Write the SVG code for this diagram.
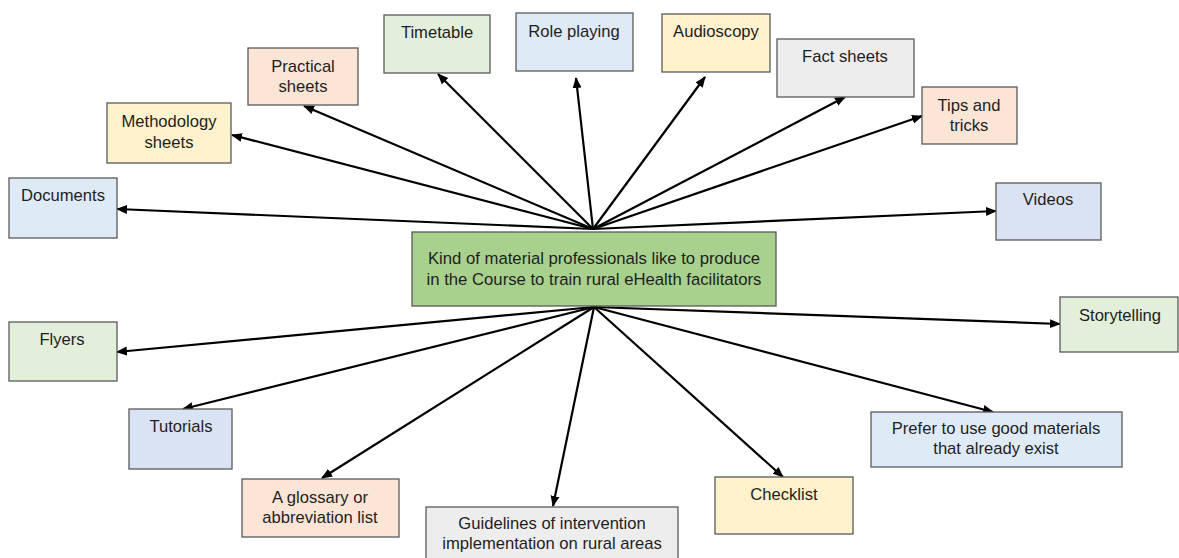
<svg xmlns="http://www.w3.org/2000/svg" width="1179" height="558" viewBox="0 0 1179 558">
<defs>
<style>
.n{stroke:#5a5a5a;stroke-width:1.3}
.t{font-family:"Liberation Sans",Arial,sans-serif;font-size:16.6px;fill:#1e1e1e;text-anchor:middle}
.g{fill:#e2efda}.b{fill:#deebf7}.v{fill:#dae3f3}.y{fill:#fff2cc}.p{fill:#fbe5d6}.r{fill:#ededed}
.c line{stroke:#000;stroke-width:2.2;marker-end:url(#a)}
</style>
<marker id="a" markerUnits="userSpaceOnUse" markerWidth="12" markerHeight="10" refX="10" refY="4.5" orient="auto" viewBox="0 0 12 9">
<path d="M0,0 L11,4.5 L0,9 Z" fill="#000"/>
</marker>
</defs>
<rect width="1179" height="558" fill="#fff"/>
<g class="c" id="connectors">
<line x1="593" y1="229" x2="117" y2="209"/>
<line x1="593" y1="229" x2="232" y2="135"/>
<line x1="593" y1="229" x2="304" y2="106"/>
<line x1="593" y1="229" x2="438" y2="74"/>
<line x1="593" y1="229" x2="576" y2="78"/>
<line x1="593" y1="229" x2="705" y2="77"/>
<line x1="593" y1="229" x2="845" y2="97"/>
<line x1="593" y1="229" x2="922" y2="116"/>
<line x1="593" y1="229" x2="996" y2="211"/>
<line x1="594" y1="307" x2="117" y2="352"/>
<line x1="594" y1="307" x2="183" y2="409"/>
<line x1="594" y1="307" x2="322" y2="478"/>
<line x1="594" y1="307" x2="553" y2="506"/>
<line x1="594" y1="307" x2="783" y2="477"/>
<line x1="594" y1="307" x2="1060" y2="324"/>
<line x1="594" y1="307" x2="993" y2="412"/>
</g>
<g id="center"><rect class="n" x="412" y="232" width="364" height="74" fill="#a9d18e"/>
<text class="t" style="font-size:16.7px" x="594" y="264">Kind of material professionals like to produce</text>
<text class="t" style="font-size:16.7px" x="594" y="285">in the Course to train rural eHealth facilitators</text></g>
<g id="documents"><rect class="n b" x="9" y="178" width="108" height="60"/><text class="t" x="63" y="201">Documents</text></g>
<g id="methodology"><rect class="n y" x="107" y="103" width="124" height="60"/><text class="t" x="169" y="127">Methodology</text><text class="t" x="169" y="148">sheets</text></g>
<g id="practical"><rect class="n p" x="248" y="48" width="110" height="57"/><text class="t" x="303" y="72">Practical</text><text class="t" x="303" y="92">sheets</text></g>
<g id="timetable"><rect class="n g" x="384" y="15" width="106" height="58"/><text class="t" x="437" y="38">Timetable</text></g>
<g id="roleplaying"><rect class="n b" x="516" y="13" width="117" height="58"/><text class="t" x="574" y="37">Role playing</text></g>
<g id="audioscopy"><rect class="n y" x="662" y="14" width="108" height="58"/><text class="t" x="716" y="37">Audioscopy</text></g>
<g id="factsheets"><rect class="n r" x="777" y="39" width="137" height="58"/><text class="t" x="845" y="62">Fact sheets</text></g>
<g id="tips"><rect class="n p" x="922" y="87" width="95" height="57"/><text class="t" x="969" y="111">Tips and</text><text class="t" x="969" y="131">tricks</text></g>
<g id="videos"><rect class="n v" x="996" y="183" width="105" height="57"/><text class="t" x="1048" y="205">Videos</text></g>
<g id="flyers"><rect class="n g" x="9" y="322" width="108" height="59"/><text class="t" x="62" y="345">Flyers</text></g>
<g id="tutorials"><rect class="n v" x="129" y="409" width="103" height="60"/><text class="t" x="181" y="432">Tutorials</text></g>
<g id="glossary"><rect class="n p" x="242" y="479" width="157" height="58"/><text class="t" x="320" y="503">A glossary or</text><text class="t" x="320" y="523">abbreviation list</text></g>
<g id="guidelines"><rect class="n r" x="426" y="507" width="252" height="56"/><text class="t" x="552" y="529">Guidelines of intervention</text><text class="t" x="552" y="549">implementation on rural areas</text></g>
<g id="checklist"><rect class="n y" x="715" y="477" width="138" height="57"/><text class="t" x="784" y="500">Checklist</text></g>
<g id="storytelling"><rect class="n g" x="1060" y="297" width="118" height="55"/><text class="t" x="1120" y="321">Storytelling</text></g>
<g id="prefer"><rect class="n b" x="871" y="412" width="251" height="55"/><text class="t" x="996" y="434">Prefer to use good materials</text><text class="t" x="996" y="454">that already exist</text></g>
</svg>
